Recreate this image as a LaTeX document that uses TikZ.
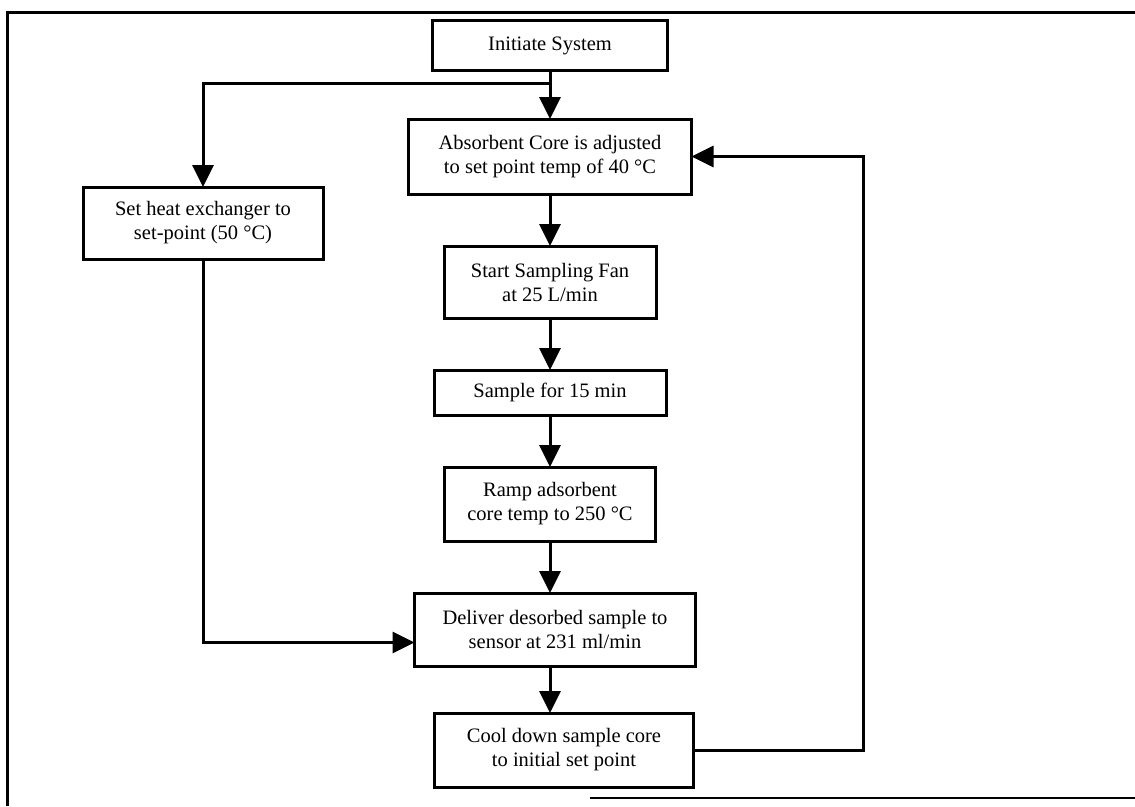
\documentclass[tikz,border=0pt]{standalone}
\usepackage{fontspec}
\setmainfont{Liberation Serif}
\usepackage{tikz}
\usetikzlibrary{arrows.meta, positioning, calc}

\begin{document}
\begin{tikzpicture}[
  x=1pt, y=-1pt,
  node distance=52pt,
  stage/.style={rectangle, draw, line width=3pt, outer sep=0pt, align=center, inner sep=3pt, font=\fontsize{20.5}{24}\selectfont},
  arr/.style={draw, line width=3pt, -{Triangle[length=22pt, width=21pt]}},
  frame/.style={draw, line width=3pt}
]
  \useasboundingbox (0,0) rectangle (1135,806);

  % Nodes
  \node[stage, minimum width=235pt, minimum height=50pt] (init) at (550,45.5) {Initiate System};
  \node[stage, minimum width=283pt, minimum height=75pt, below=48.5pt of init] (absorb) {Absorbent Core is adjusted\\to set point temp of 40 °C};
  \node[stage, minimum width=212pt, minimum height=72pt, below=of absorb] (fan) {Start Sampling Fan\\at 25 L/min};
  \node[stage, minimum width=232pt, minimum height=45pt, below=of fan] (sample) {Sample for 15 min};
  \node[stage, minimum width=211pt, minimum height=74pt, below=of sample] (ramp) {Ramp adsorbent\\core temp to 250 °C};
  \node[stage, minimum width=281pt, minimum height=73pt, below=of ramp, xshift=5pt] (deliver) {Deliver desorbed sample to\\sensor at 231 ml/min};
  \node[stage, minimum width=259pt, minimum height=74pt, below=47pt of deliver, xshift=9pt] (cool) {Cool down sample core\\to initial set point};

  \node[stage, minimum width=240pt, minimum height=72pt] (heat) at (203,223) {Set heat exchanger to\\set-point (50 °C)};

  \coordinate (split) at ([yshift=-13pt]init.south);
  \coordinate (ret) at (863,153);

  % Flows
  \draw[arr] (init) -- (absorb);
  \draw[arr] (split) -| (heat.north);
  \draw[arr] (absorb) -- (fan);
  \draw[arr] (fan) -- (sample);
  \draw[arr] (sample) -- (ramp);
  \draw[arr] (ramp.south) -- (ramp.south |- deliver.north);
  \draw[arr] (deliver.south -| ramp.south) -- (ramp.south |- cool.north);
  \draw[arr] (heat.south) |- ([yshift=-13pt]deliver.west);
  \draw[arr] (cool.east) -| (ret |- absorb.east) -- (absorb.east);

  % Frame
  \draw[frame] (7,806) -- (7,12) -- (1135,12);
  \draw[frame, line width=2pt] (590,798) -- (1135,798);
\end{tikzpicture}
\end{document}
